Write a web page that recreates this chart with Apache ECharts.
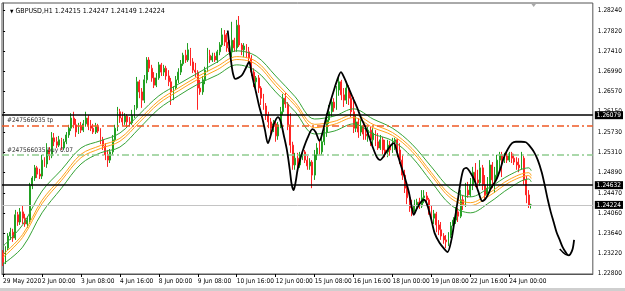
<!DOCTYPE html>
<html><head><meta charset="utf-8">
<script src="https://cdn.jsdelivr.net/npm/echarts@6/dist/echarts.min.js"></script>
<style>html,body{margin:0;padding:0;background:#fff}#c{width:625px;height:291px}</style>
</head><body><div id="c"></div>
<script>
// ---------- data (2-hour candles, index 0 = 29 May 2020 16:00) ----------
const symbolName = 'GBPUSD,H1';
const lastBar = [1.24215, 1.24247, 1.24149, 1.24224]; // open high low close
const tickLabels = ['29 May 2020','2 Jun 00:00','3 Jun 08:00','4 Jun 16:00','8 Jun 00:00','9 Jun 08:00','10 Jun 16:00','12 Jun 00:00','15 Jun 08:00','16 Jun 16:00','18 Jun 00:00','19 Jun 08:00','22 Jun 16:00','24 Jun 00:00'];
const candlesPerLabel = 16;
const priceTicks = [1.22800,1.23220,1.23640,1.24060,1.24470,1.24890,1.25310,1.25730,1.26150,1.26570,1.26990,1.27410,1.27820,1.28240];

const opens = [
1.2323,1.2304,1.2333,1.2358,1.2366,1.2354,1.2402,1.2387,1.2408,1.2395,
1.2383,1.2391,1.2462,1.2478,1.2499,1.2486,1.2482,1.2515,1.2507,1.2536,
1.2524,1.2561,1.2553,1.2546,1.2557,1.2540,1.2553,1.2567,1.2581,1.2602,
1.2588,1.2573,1.2586,1.2577,1.2590,1.2602,1.2586,1.2581,1.2573,1.2584,
1.2575,1.2557,1.2544,1.2526,1.2515,1.2532,1.2557,1.2581,1.2615,1.2602,
1.2594,1.2606,1.2594,1.2592,1.2608,1.2623,1.2677,1.2656,1.2639,1.2681,
1.2722,1.2705,1.2685,1.2670,1.2685,1.2712,1.2697,1.2705,1.2689,1.2677,
1.2656,1.2664,1.2681,1.2697,1.2714,1.2732,1.2722,1.2743,1.2718,1.2701,
1.2697,1.2664,1.2656,1.2681,1.2701,1.2732,1.2722,1.2730,1.2722,1.2739,
1.2753,1.2774,1.2759,1.2747,1.2739,1.2763,1.2747,1.2794,1.2753,1.2743,
1.2751,1.2739,1.2726,1.2697,1.2677,1.2685,1.2664,1.2643,1.2627,1.2608,
1.2594,1.2581,1.2590,1.2565,1.2588,1.2615,1.2643,1.2631,1.2588,1.2546,
1.2505,1.2519,1.2505,1.2526,1.2532,1.2515,1.2503,1.2511,1.2484,1.2526,
1.2540,1.2532,1.2553,1.2573,1.2598,1.2615,1.2635,1.2623,1.2660,1.2677,
1.2650,1.2639,1.2664,1.2643,1.2615,1.2581,1.2594,1.2573,1.2586,1.2569,
1.2565,1.2577,1.2557,1.2571,1.2553,1.2540,1.2557,1.2536,1.2532,1.2546,
1.2536,1.2553,1.2557,1.2536,1.2515,1.2484,1.2457,1.2437,1.2416,1.2408,
1.2422,1.2428,1.2420,1.2437,1.2441,1.2433,1.2412,1.2395,1.2404,1.2381,
1.2371,1.2358,1.2350,1.2346,1.2360,1.2379,1.2391,1.2408,1.2399,1.2433,
1.2422,1.2453,1.2443,1.2464,1.2490,1.2474,1.2468,1.2499,1.2464,1.2443,
1.2457,1.2505,1.2474,1.2484,1.2515,1.2526,1.2515,1.2524,1.2515,1.2528,
1.2519,1.2511,1.2505,1.2499,1.2519,1.2474,1.2443,1.24215];
const closes = [
1.2304,1.2333,1.2358,1.2366,1.2354,1.2402,1.2387,1.2408,1.2395,1.2383,
1.2391,1.2462,1.2478,1.2499,1.2486,1.2482,1.2515,1.2507,1.2536,1.2524,
1.2561,1.2553,1.2546,1.2557,1.2540,1.2553,1.2567,1.2581,1.2602,1.2588,
1.2573,1.2586,1.2577,1.2590,1.2602,1.2586,1.2581,1.2573,1.2584,1.2575,
1.2557,1.2544,1.2526,1.2515,1.2532,1.2557,1.2581,1.2615,1.2602,1.2594,
1.2606,1.2594,1.2592,1.2608,1.2623,1.2677,1.2656,1.2639,1.2681,1.2722,
1.2705,1.2685,1.2670,1.2685,1.2712,1.2697,1.2705,1.2689,1.2677,1.2656,
1.2664,1.2681,1.2697,1.2714,1.2732,1.2722,1.2743,1.2718,1.2701,1.2697,
1.2664,1.2656,1.2681,1.2701,1.2732,1.2722,1.2730,1.2722,1.2739,1.2753,
1.2774,1.2759,1.2747,1.2739,1.2763,1.2747,1.2794,1.2753,1.2743,1.2751,
1.2739,1.2726,1.2697,1.2677,1.2685,1.2664,1.2643,1.2627,1.2608,1.2594,
1.2581,1.2590,1.2565,1.2588,1.2615,1.2643,1.2631,1.2588,1.2546,1.2505,
1.2519,1.2505,1.2526,1.2532,1.2515,1.2503,1.2511,1.2484,1.2526,1.2540,
1.2532,1.2553,1.2573,1.2598,1.2615,1.2635,1.2623,1.2660,1.2677,1.2650,
1.2639,1.2664,1.2643,1.2615,1.2581,1.2594,1.2573,1.2586,1.2569,1.2565,
1.2577,1.2557,1.2571,1.2553,1.2540,1.2557,1.2536,1.2532,1.2546,1.2536,
1.2553,1.2557,1.2536,1.2515,1.2484,1.2457,1.2437,1.2416,1.2408,1.2422,
1.2428,1.2420,1.2437,1.2441,1.2433,1.2412,1.2395,1.2404,1.2381,1.2371,
1.2358,1.2350,1.2346,1.2360,1.2379,1.2391,1.2408,1.2399,1.2433,1.2422,
1.2453,1.2443,1.2464,1.2490,1.2474,1.2468,1.2499,1.2464,1.2443,1.2457,
1.2505,1.2474,1.2484,1.2515,1.2526,1.2515,1.2524,1.2515,1.2528,1.2519,
1.2511,1.2505,1.2499,1.2519,1.2474,1.2443,1.2422,1.24224];
const lows = [
1.2296,1.2300,1.2329,1.2350,1.2346,1.2350,1.2379,1.2381,1.2383,1.2377,
1.2375,1.2383,1.2455,1.2472,1.2478,1.2476,1.2476,1.2501,1.2499,1.2515,
1.2519,1.2544,1.2540,1.2542,1.2536,1.2536,1.2548,1.2561,1.2575,1.2581,
1.2563,1.2569,1.2571,1.2573,1.2584,1.2577,1.2575,1.2569,1.2569,1.2571,
1.2548,1.2536,1.2515,1.2501,1.2509,1.2526,1.2553,1.2575,1.2592,1.2586,
1.2588,1.2584,1.2584,1.2588,1.2602,1.2619,1.2643,1.2623,1.2633,1.2674,
1.2697,1.2677,1.2664,1.2666,1.2681,1.2689,1.2689,1.2681,1.2668,1.2629,
1.2639,1.2660,1.2674,1.2691,1.2710,1.2716,1.2718,1.2710,1.2695,1.2687,
1.2619,1.2650,1.2650,1.2672,1.2697,1.2716,1.2718,1.2718,1.2716,1.2732,
1.2749,1.2751,1.2739,1.2732,1.2728,1.2739,1.2739,1.2749,1.2732,1.2728,
1.2726,1.2716,1.2689,1.2666,1.2660,1.2654,1.2629,1.2619,1.2598,1.2581,
1.2569,1.2573,1.2553,1.2557,1.2581,1.2608,1.2623,1.2577,1.2530,1.2495,
1.2495,1.2499,1.2499,1.2515,1.2509,1.2495,1.2495,1.2457,1.2474,1.2515,
1.2526,1.2526,1.2546,1.2563,1.2590,1.2604,1.2615,1.2619,1.2648,1.2639,
1.2625,1.2631,1.2629,1.2604,1.2571,1.2573,1.2561,1.2565,1.2557,1.2557,
1.2553,1.2544,1.2542,1.2544,1.2536,1.2536,1.2526,1.2521,1.2521,1.2524,
1.2530,1.2536,1.2521,1.2507,1.2474,1.2447,1.2424,1.2408,1.2399,1.2404,
1.2412,1.2414,1.2416,1.2426,1.2422,1.2402,1.2385,1.2383,1.2366,1.2360,
1.2350,1.2342,1.2333,1.2337,1.2354,1.2371,1.2383,1.2387,1.2395,1.2412,
1.2418,1.2437,1.2439,1.2453,1.2459,1.2459,1.2462,1.2453,1.2433,1.2439,
1.2449,1.2457,1.2447,1.2478,1.2495,1.2480,1.2509,1.2509,1.2511,1.2509,
1.2505,1.2495,1.2490,1.2495,1.2464,1.2426,1.2416,1.24149];
const highs = [
1.2329,1.2337,1.2364,1.2375,1.2373,1.2412,1.2408,1.2416,1.2422,1.2404,
1.2399,1.2468,1.2482,1.2505,1.2503,1.2497,1.2526,1.2521,1.2550,1.2542,
1.2573,1.2571,1.2563,1.2565,1.2561,1.2559,1.2573,1.2588,1.2612,1.2615,
1.2600,1.2592,1.2594,1.2598,1.2615,1.2608,1.2598,1.2590,1.2592,1.2590,
1.2581,1.2563,1.2550,1.2536,1.2538,1.2567,1.2588,1.2625,1.2621,1.2615,
1.2612,1.2610,1.2604,1.2619,1.2629,1.2687,1.2681,1.2664,1.2691,1.2728,
1.2728,1.2712,1.2697,1.2695,1.2718,1.2716,1.2712,1.2710,1.2701,1.2685,
1.2668,1.2689,1.2705,1.2722,1.2737,1.2743,1.2757,1.2747,1.2726,1.2716,
1.2701,1.2681,1.2689,1.2708,1.2747,1.2743,1.2737,1.2737,1.2743,1.2759,
1.2788,1.2784,1.2778,1.2763,1.2801,1.2768,1.2805,1.2813,1.2757,1.2757,
1.2755,1.2749,1.2732,1.2705,1.2689,1.2691,1.2668,1.2652,1.2633,1.2615,
1.2602,1.2598,1.2594,1.2594,1.2625,1.2652,1.2654,1.2635,1.2612,1.2553,
1.2530,1.2530,1.2532,1.2536,1.2536,1.2524,1.2519,1.2515,1.2536,1.2550,
1.2557,1.2563,1.2581,1.2612,1.2629,1.2646,1.2643,1.2668,1.2687,1.2681,
1.2664,1.2677,1.2670,1.2656,1.2646,1.2608,1.2602,1.2598,1.2594,1.2586,
1.2584,1.2584,1.2581,1.2577,1.2571,1.2567,1.2563,1.2557,1.2557,1.2555,
1.2561,1.2561,1.2559,1.2550,1.2526,1.2495,1.2464,1.2445,1.2433,1.2433,
1.2435,1.2437,1.2453,1.2453,1.2449,1.2437,1.2422,1.2412,1.2408,1.2391,
1.2387,1.2364,1.2360,1.2366,1.2387,1.2397,1.2418,1.2416,1.2453,1.2443,
1.2468,1.2470,1.2478,1.2501,1.2509,1.2495,1.2515,1.2505,1.2484,1.2480,
1.2515,1.2511,1.2501,1.2526,1.2532,1.2532,1.2530,1.2530,1.2532,1.2532,
1.2528,1.2521,1.2519,1.2532,1.2524,1.2482,1.2453,1.24247];

// indicator lines read at sample candles
const maX         = [0,8,16,24,32,40,48,56,64,72,80,88,96,104,112,120,128,136,144,152,160,168,176,184,192,200,208,216,217];
const greenUpper  = [1.2337,1.2381,1.2451,1.2495,1.2540,1.2555,1.2571,1.2610,1.2648,1.2672,1.2695,1.2718,1.2741,1.2730,1.2689,1.2646,1.2600,1.2606,1.2621,1.2600,1.2581,1.2548,1.2501,1.2455,1.2439,1.2459,1.2484,1.2499,1.2493];
const orangeUpper = [1.2320,1.2361,1.2432,1.2479,1.2527,1.2545,1.2560,1.2599,1.2638,1.2664,1.2688,1.2709,1.2729,1.2719,1.2676,1.2634,1.2589,1.2595,1.2609,1.2589,1.2572,1.2539,1.2489,1.2442,1.2427,1.2448,1.2475,1.2489,1.2483];
const orangeLower = [1.2314,1.2355,1.2425,1.2473,1.2520,1.2539,1.2554,1.2593,1.2632,1.2658,1.2682,1.2702,1.2723,1.2713,1.2669,1.2628,1.2582,1.2589,1.2603,1.2582,1.2566,1.2533,1.2483,1.2436,1.2421,1.2442,1.2469,1.2483,1.2477];
const greenLower  = [1.2300,1.2335,1.2406,1.2457,1.2507,1.2530,1.2542,1.2581,1.2621,1.2648,1.2672,1.2691,1.2712,1.2699,1.2656,1.2615,1.2569,1.2575,1.2590,1.2569,1.2555,1.2521,1.2470,1.2422,1.2406,1.2428,1.2457,1.2476,1.2470];

// hand-drawn black path [candle, price]
const drawPath = [[92.3,1.2783],[92.9,1.2753],[93.7,1.2718],[94.5,1.2693],[95.4,1.2683],[96.6,1.2685],[98.2,1.2691],[99.8,1.2706],[101.1,1.2718],[101.9,1.2701],[102.7,1.2681],[103.9,1.2656],[105.1,1.2629],[106.4,1.2604],[107.6,1.2577],[108.8,1.2550],[110.0,1.2567],[111.3,1.2590],[112.9,1.2604],[114.1,1.2594],[115.3,1.2567],[116.6,1.2536],[117.8,1.2495],[118.6,1.2464],[119.4,1.2453],[120.2,1.2470],[121.0,1.2495],[122.3,1.2521],[123.5,1.2540],[125.1,1.2561],[127.1,1.2579],[128.4,1.2573],[130.0,1.2555],[131.2,1.2571],[132.5,1.2598],[134.1,1.2629],[135.7,1.2656],[137.3,1.2681],[138.8,1.2697],[140.2,1.2685],[141.8,1.2666],[143.5,1.2646],[145.5,1.2623],[147.1,1.2602],[148.8,1.2584],[150.4,1.2563],[152.0,1.2540],[153.6,1.2521],[154.9,1.2515],[156.1,1.2521],[157.7,1.2534],[159.4,1.2546],[160.6,1.2550],[161.8,1.2532],[163.4,1.2505],[165.1,1.2478],[166.7,1.2449],[167.9,1.2418],[168.7,1.2402],[169.9,1.2414],[171.6,1.2428],[172.8,1.2433],[174.0,1.2426],[175.7,1.2397],[177.3,1.2364],[179.3,1.2344],[181.0,1.2333],[182.6,1.2325],[184.2,1.2350],[185.4,1.2387],[186.7,1.2428],[187.9,1.2468],[189.1,1.2495],[190.3,1.2499],[191.9,1.2490],[193.6,1.2474],[195.2,1.2451],[196.9,1.2430],[198.5,1.2437],[200.5,1.2457],[202.6,1.2474],[204.2,1.2495],[205.8,1.2521],[207.4,1.2538],[209.1,1.2550],[210.7,1.2553],[212.8,1.2553],[214.8,1.2552],[216.4,1.2544],[218.1,1.2532],[219.7,1.2515],[221.3,1.2490],[222.5,1.2464],[223.8,1.2433],[225.0,1.2408],[226.2,1.2387],[227.4,1.2366],[228.7,1.2350],[229.9,1.2335],[231.1,1.2325],[232.3,1.2318],[233.1,1.2321],[234.0,1.2331],[234.6,1.2350]];
const drawHook = [[228.7,1.2331],[229.9,1.2325],[231.1,1.2320],[232.3,1.2318]];

const blackLevels = [1.26079, 1.24632];
const tpLevel = 1.25870, tpText = '#247566035 tp';
const buyLevel = 1.25262, buyText = '#247566035 buy 0.07';
const bidLevel = lastBar[3];

// ---------- chart ----------
const FONT = '"Liberation Sans Narrow","DejaVu Sans Condensed","Liberation Sans",sans-serif';
const candleData = opens.map((o, i) => [i, o, closes[i], lows[i], highs[i]]);
const pairs = (ys) => maX.map((x, i) => [x, ys[i]]);
const tickPos = tickLabels.map((_, k) => k * candlesPerLabel);
const Y_MIN = 1.22795, Y_MAX = 1.28399;

const boxLabel = {
  show: true, position: 'end', distance: 2, formatter: p => Number(p.value).toFixed(5),
  backgroundColor: '#000', color: '#fff', padding: [1, 2, 0, 2], fontSize: 6.5, fontFamily: FONT
};
const orderLabel = (t) => ({ show: true, position: 'insideStartTop', distance: [5, 1], formatter: t,
  color: '#333', fontSize: 6.5, fontFamily: FONT });

const chart = echarts.init(document.getElementById('c'), null, { renderer: 'canvas' });
chart.setOption({
  animation: false,
  backgroundColor: '#fff',
  title: {
    text: '{t|▼} ' + symbolName + ' ' + lastBar.map(v => v.toFixed(5)).join(' '),
    left: 5, top: 3,
    textStyle: { fontSize: 7, fontWeight: 'normal', color: '#000', fontFamily: FONT,
      rich: { t: { fontSize: 5, color: '#000' } } }
  },
  grid: { left: 2, right: 27.5, top: 3, bottom: 17, show: true, borderColor: '#555', borderWidth: 1 },
  xAxis: {
    type: 'value', min: -0.45, max: 242.3,
    splitLine: { show: false },
    axisLine: { show: true, onZero: false, lineStyle: { color: '#555' } },
    axisTick: { show: true, customValues: tickPos, length: 3, lineStyle: { color: '#000' } },
    axisLabel: { customValues: tickPos, formatter: v => tickLabels[Math.round(v / candlesPerLabel)],
      align: 'left', fontSize: 6.5, color: '#000', margin: 4, fontFamily: FONT }
  },
  yAxis: {
    type: 'value', position: 'right', min: Y_MIN, max: Y_MAX,
    splitLine: { show: false },
    axisLine: { show: true, lineStyle: { color: '#555' } },
    axisTick: { show: true, customValues: priceTicks, length: 2, lineStyle: { color: '#000' } },
    axisLabel: { customValues: priceTicks, formatter: v => v.toFixed(5), fontSize: 6.5, color: '#000',
      margin: 5, fontFamily: FONT }
  },
  series: [
    {
      type: 'candlestick', data: candleData, barWidth: 1.4,
      itemStyle: { color: '#9cd89c', color0: '#f7a3a3', borderColor: '#22a022', borderColor0: '#ff2424', borderWidth: 1 },
      markPoint: {
        silent: true, animation: false, label: { show: false },
        data: [{ coord: [opens.length, Y_MAX], symbol: 'triangle', symbolRotate: 180, symbolSize: [6, 4],
          symbolOffset: [0, 2], itemStyle: { color: '#a8a8a8' } }]
      },
      markLine: {
        silent: true, symbol: ['none', 'none'], animation: false, precision: 5,
        data: [
          { yAxis: blackLevels[0], lineStyle: { color: '#000', width: 1.5, type: 'solid' }, label: boxLabel },
          { yAxis: tpLevel, lineStyle: { color: '#f05a24', width: 1.5, type: [7, 3, 2, 3] }, label: orderLabel(tpText) },
          { yAxis: buyLevel, lineStyle: { color: '#8fcc8f', width: 1.5, type: [7, 3, 2, 3] }, label: orderLabel(buyText) },
          { yAxis: blackLevels[1], lineStyle: { color: '#000', width: 1.5, type: 'solid' }, label: boxLabel },
          { yAxis: bidLevel, lineStyle: { color: '#c4c4c4', width: 1, type: 'solid' }, label: boxLabel }
        ]
      }
    },
    { type: 'line', data: pairs(greenUpper), smooth: 0.35, symbol: 'none', lineStyle: { color: '#35a335', width: 1 } },
    { type: 'line', data: pairs(orangeUpper), smooth: 0.35, symbol: 'none', lineStyle: { color: '#ffa31a', width: 1 } },
    { type: 'line', data: pairs(orangeLower), smooth: 0.35, symbol: 'none', lineStyle: { color: '#ffa31a', width: 1 } },
    { type: 'line', data: pairs(greenLower), smooth: 0.35, symbol: 'none', lineStyle: { color: '#35a335', width: 1 } },
    { type: 'line', data: drawPath, smooth: 0.3, symbol: 'none', lineStyle: { color: '#000', width: 1.8 }, z: 5 },
    { type: 'line', data: drawHook, smooth: 0.3, symbol: 'none', lineStyle: { color: '#000', width: 1.5 }, z: 5 }
  ],
  graphic: [
    { type: 'rect', left: 0, bottom: 0, shape: { width: 625, height: 3 }, style: { fill: '#cfcfcf' }, silent: true }
  ]
});
</script></body></html>
